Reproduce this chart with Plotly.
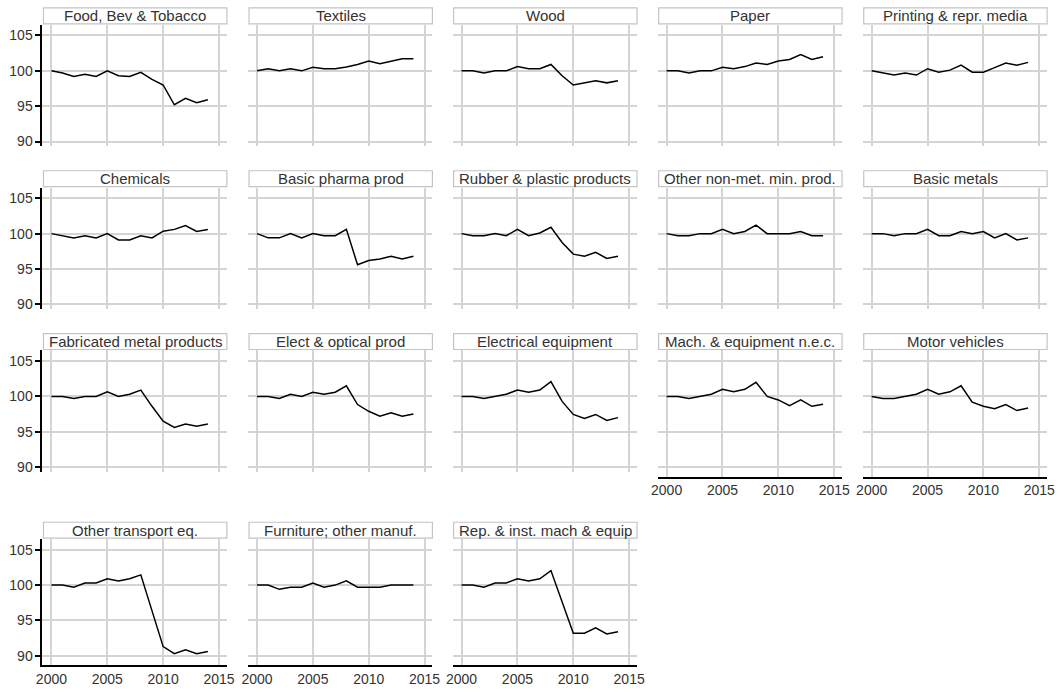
import plotly.graph_objects as go

years = list(range(2000, 2015))

food = [100, 99.7, 99.2, 99.5, 99.2, 100.0, 99.3, 99.2, 99.8, 98.8, 98.0, 95.2, 96.1, 95.5, 95.9]
textiles = [100, 100.3, 100.0, 100.3, 100.0, 100.5, 100.3, 100.3, 100.55, 100.9, 101.4, 101.0, 101.35, 101.7, 101.7]
wood = [100, 100, 99.7, 100, 100, 100.6, 100.3, 100.3, 100.9, 99.3, 98.0, 98.3, 98.6, 98.3, 98.6]
paper = [100, 100, 99.7, 100, 100, 100.5, 100.3, 100.6, 101.1, 100.9, 101.4, 101.6, 102.3, 101.6, 102.0]
printing = [100, 99.7, 99.4, 99.7, 99.4, 100.3, 99.8, 100.1, 100.8, 99.8, 99.8, 100.45, 101.1, 100.8, 101.2]
chemicals = [100, 99.7, 99.4, 99.7, 99.4, 100.0, 99.1, 99.1, 99.7, 99.4, 100.35, 100.6, 101.15, 100.3, 100.6]
pharma = [100, 99.4, 99.4, 100.0, 99.4, 100.0, 99.7, 99.7, 100.6, 95.6, 96.2, 96.4, 96.8, 96.4, 96.8]
rubber = [100, 99.7, 99.7, 100.0, 99.7, 100.6, 99.7, 100.1, 100.9, 98.75, 97.1, 96.8, 97.35, 96.5, 96.8]
nonmet = [100, 99.7, 99.7, 100, 100, 100.6, 100, 100.3, 101.2, 100, 100, 100, 100.3, 99.7, 99.7]
basic_metals = [100, 100, 99.7, 100, 100, 100.6, 99.7, 99.7, 100.3, 100, 100.3, 99.4, 100, 99.1, 99.4]
fabricated = [100, 100, 99.7, 100, 100, 100.65, 100, 100.3, 100.9, 98.6, 96.5, 95.6, 96.1, 95.8, 96.1]
elect_optical = [100, 100, 99.7, 100.3, 100, 100.6, 100.3, 100.6, 101.5, 98.85, 97.9, 97.2, 97.7, 97.2, 97.5]
electrical = [100, 100, 99.7, 100, 100.3, 100.9, 100.6, 100.9, 102.1, 99.3, 97.45, 96.9, 97.45, 96.6, 97.0]
machinery = [100, 100, 99.7, 100, 100.3, 101.0, 100.65, 101.0, 102.0, 100.0, 99.5, 98.7, 99.5, 98.6, 98.9]
motor = [100, 99.7, 99.7, 100, 100.3, 101.0, 100.3, 100.65, 101.5, 99.2, 98.6, 98.25, 98.85, 98.0, 98.35]
other_transport = [100, 100, 99.7, 100.3, 100.3, 100.9, 100.6, 100.9, 101.45, 96.25, 91.3, 90.3, 90.85, 90.3, 90.6]
furniture = [100, 100, 99.4, 99.7, 99.7, 100.3, 99.7, 100.0, 100.6, 99.7, 99.7, 99.7, 100, 100, 100]
repair = [100, 100, 99.7, 100.3, 100.3, 100.9, 100.6, 100.9, 102.05, 97.7, 93.2, 93.2, 93.95, 93.1, 93.4]

titles = ["Food, Bev & Tobacco", "Textiles", "Wood", "Paper", "Printing & repr. media",
          "Chemicals", "Basic pharma prod", "Rubber & plastic products", "Other non-met. min. prod.", "Basic metals",
          "Fabricated metal products", "Elect & optical prod", "Electrical equipment", "Mach. & equipment n.e.c.", "Motor vehicles",
          "Other transport eq.", "Furniture; other manuf.", "Rep. & inst. mach & equip"]
series = [food, textiles, wood, paper, printing,
          chemicals, pharma, rubber, nonmet, basic_metals,
          fabricated, elect_optical, electrical, machinery, motor,
          other_transport, furniture, repair]

x_ticks = [2000, 2005, 2010, 2015]
y_ticks = [90, 95, 100, 105]

W, H = 1063, 692
col_left = [36, 244.5, 452, 660, 868]
plot_w = 187
row_top = [25, 188.5, 352, 541.5]
ppu = 7.1
ymax = 106.5
ymin_in = 89.3
ymin_bot = 88.65
xr = [1999.2, 2015.7]

GRID = "#d4d4d4"
TXT = "#333333"
FONT = "Liberation Sans, Arial, sans-serif"

fig = go.Figure()
layout = {}
shapes = []
annotations = []

for i, (title, vals) in enumerate(zip(titles, series)):
    r, c = divmod(i, 5)
    n = i + 1
    bottom = (r == 3) or (r == 2 and c >= 3)
    ymin = ymin_bot if bottom else ymin_in
    h = (ymax - ymin) * ppu
    top = row_top[r]
    bot = top + h
    left = col_left[c]
    right = left + plot_w
    xa = "xaxis" if n == 1 else f"xaxis{n}"
    ya = "yaxis" if n == 1 else f"yaxis{n}"
    xref = "x" if n == 1 else f"x{n}"
    yref = "y" if n == 1 else f"y{n}"
    layout[xa] = dict(
        domain=[left / W, right / W], range=xr, anchor=yref,
        tickvals=x_ticks, showgrid=True, gridcolor=GRID, gridwidth=1.6,
        zeroline=False, showline=bottom, linecolor="black", linewidth=2,
        ticks="", showticklabels=bottom, tickfont=dict(size=14, color=TXT, family=FONT),
        fixedrange=True,
    )
    layout[ya] = dict(
        domain=[1 - bot / H, 1 - top / H], range=[ymin, ymax], anchor=xref,
        tickvals=y_ticks, showgrid=True, gridcolor=GRID, gridwidth=1.6,
        zeroline=False, showline=(c == 0), linecolor="black", linewidth=2,
        ticks="outside" if c == 0 else "", ticklen=5, tickcolor="black", tickwidth=1.5,
        showticklabels=(c == 0), tickfont=dict(size=14, color=TXT, family=FONT),
        fixedrange=True,
    )
    fig.add_trace(go.Scatter(
        x=years, y=vals, mode="lines", xaxis=xref, yaxis=yref,
        line=dict(color="black", width=1.5), showlegend=False, hoverinfo="x+y",
    ))
    shapes.append(dict(
        type="rect", xref="paper", yref="paper",
        x0=(left + 1) / W, x1=right / W,
        y0=1 - (top - 1) / H, y1=1 - (top - 17) / H,
        line=dict(color="#c4c4c4", width=1.2), fillcolor="white", layer="above",
    ))
    annotations.append(dict(
        text=title, xref="paper", yref="paper",
        x=(left + 1 + right) / 2 / W, y=1 - (top - 9) / H,
        xanchor="center", yanchor="middle", showarrow=False,
        font=dict(size=15, color=TXT, family=FONT),
    ))

fig.update_layout(
    width=W, height=H, autosize=False,
    margin=dict(l=0, r=0, t=0, b=0),
    paper_bgcolor="white", plot_bgcolor="white",
    shapes=shapes, annotations=annotations,
    **layout,
)

fig.write_html(
    "out.html",
    config={"displayModeBar": False},
    post_script="document.body.style.margin='0';document.body.style.overflow='hidden';",
)
